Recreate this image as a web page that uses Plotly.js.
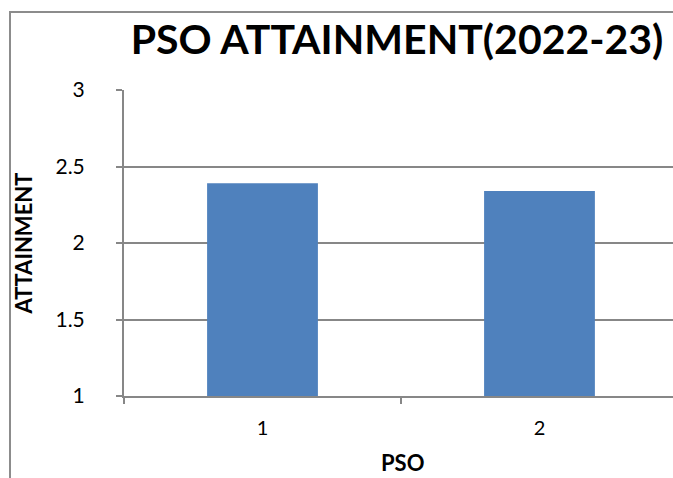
<!DOCTYPE html>
<html>
<head>
<meta charset="utf-8">
<script src="https://cdn.plot.ly/plotly-3.0.1.min.js"></script>
<style>
html,body{margin:0;padding:0;overflow:hidden;background:#fff;}
#wrap{position:relative;width:673px;height:478px;overflow:hidden;}
#frame{position:absolute;left:9px;top:11px;width:700px;height:500px;border-top:2px solid #8c8c8c;border-left:2px solid #8c8c8c;pointer-events:none;}
</style>
</head>
<body>
<div id="wrap">
<div id="chart" style="width:673px;height:478px;"></div>
<div id="frame"></div>
</div>
<script>
const categories = ['1', '2'];
const attainment = [2.39, 2.34];
const yTicks = [1, 1.5, 2, 2.5, 3];
const chartTitle = 'PSO ATTAINMENT(2022-23)';
const xTitle = 'PSO';
const yTitle = 'ATTAINMENT';

const FONT = 'Lato, "Open Sans", sans-serif';
const GRID = '#878787';

const trace = {
  type: 'bar',
  x: categories,
  y: attainment,
  width: 0.4,
  marker: {color: '#4F81BD'},
  hoverinfo: 'x+y'
};

const L = 124, R = 673, T = 90, B = 396;

const layout = {
  width: 673, height: 478,
  margin: {l: L, r: 673 - R, t: T, b: 478 - B, pad: 0},
  paper_bgcolor: 'rgba(0,0,0,0)',
  plot_bgcolor: 'rgba(0,0,0,0)',
  showlegend: false,
  font: {family: FONT, color: '#000000', size: 20},
  title: {
    text: '<b>' + chartTitle + '</b>',
    font: {family: FONT, size: 41, color: '#000000'},
    xref: 'container', yref: 'container',
    x: 397 / 673, xanchor: 'center',
    y: 1 - 40 / 478, yanchor: 'middle'
  },
  xaxis: {
    type: 'category',
    range: [-0.5, 1.482],
    tickson: 'boundaries',
    ticks: 'outside', ticklen: 6, tickwidth: 2, tickcolor: GRID,
    showline: true, linecolor: GRID, linewidth: 2,
    showgrid: false, zeroline: false,
    ticklabelstandoff: 13,
    tickfont: {family: FONT, size: 20, color: '#000'},
    automargin: false
  },
  yaxis: {
    range: [1, 3],
    tickmode: 'array', tickvals: yTicks, ticktext: yTicks.map(String),
    ticks: 'outside', ticklen: 6, tickwidth: 2, tickcolor: GRID,
    showline: true, linecolor: GRID, linewidth: 2,
    showgrid: true, gridcolor: GRID, gridwidth: 2,
    zeroline: false,
    ticklabelstandoff: 27,
    tickfont: {family: FONT, size: 21, color: '#000'},
    title: {text: '<b>' + yTitle + '</b>', font: {family: FONT, size: 22, color: '#000'}, standoff: 17},
    automargin: false
  },
  annotations: [
    {text: '<b>' + xTitle + '</b>', xref: 'paper', yref: 'paper', x: (402 - L) / (R - L), y: (B - 462) / (B - T),
     xanchor: 'center', yanchor: 'middle', showarrow: false, font: {family: FONT, size: 22, color: '#000'}}
  ]
};

Plotly.newPlot('chart', [trace], layout, {displayModeBar: false, staticPlot: true});
</script>
</body>
</html>
